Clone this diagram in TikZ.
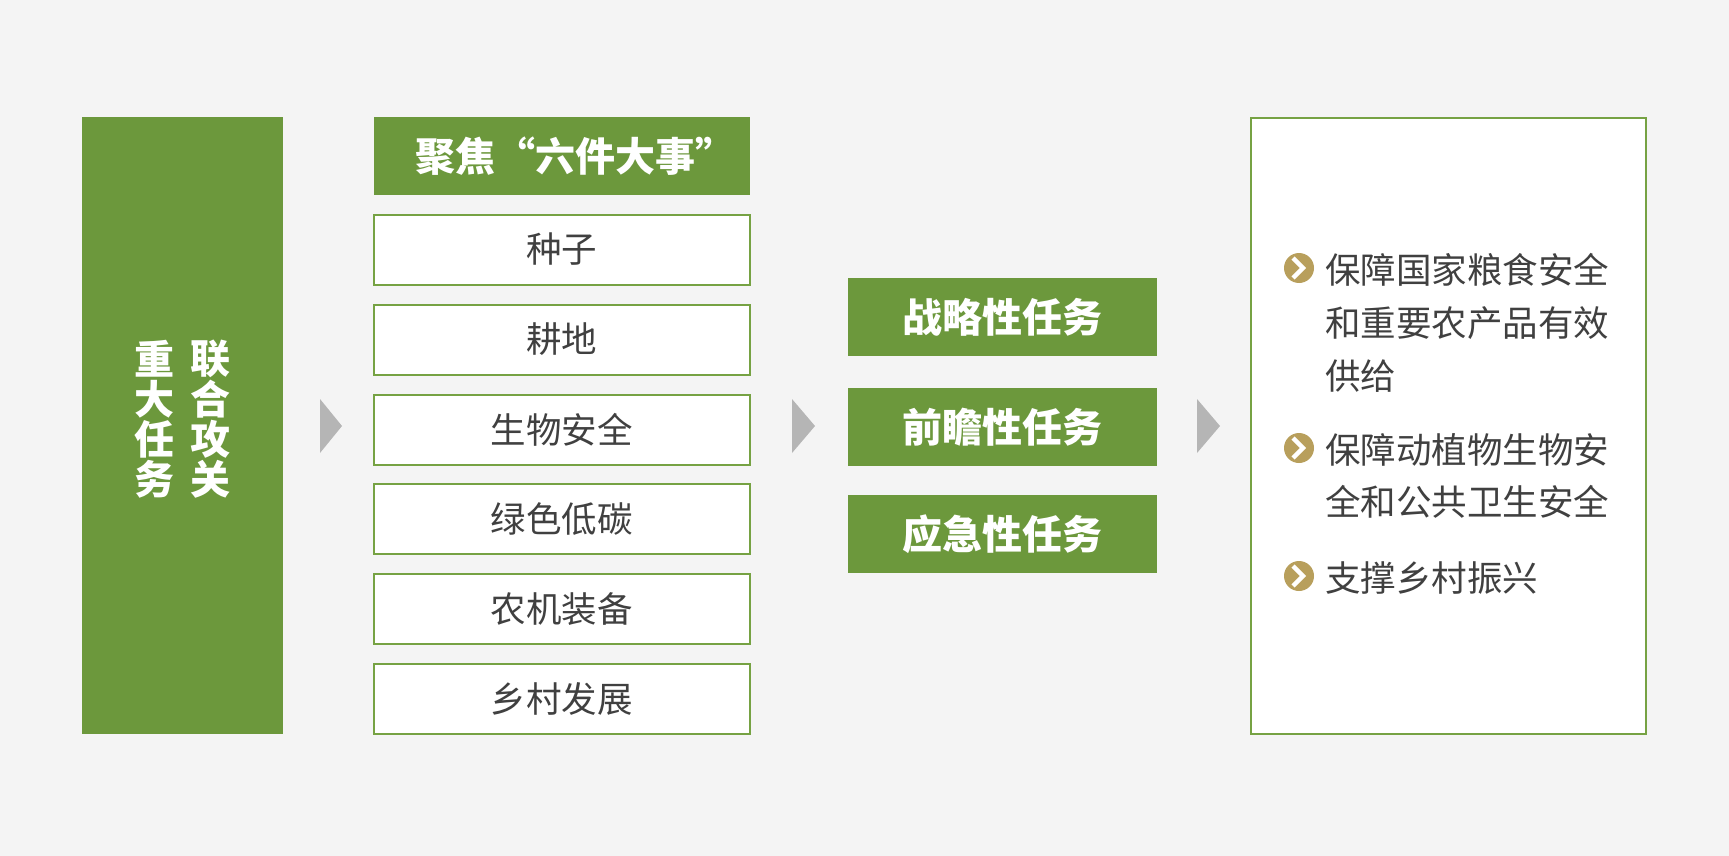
\documentclass[tikz,border=0pt]{standalone}
\usepackage{fontspec}
\setmainfont{Noto Sans CJK SC}
\usetikzlibrary{positioning}
\definecolor{bgc}{HTML}{F4F4F4}
\definecolor{leaf}{HTML}{6C983C}
\definecolor{edge}{HTML}{76A243}
\definecolor{ink}{HTML}{404040}
\definecolor{gold}{HTML}{B89F5C}
\definecolor{pointer}{HTML}{B5B5B5}
\tikzset{
  solidbox/.style={fill=leaf,draw=none,text=white,font=\fontsize{40}{40}\selectfont\bfseries,inner sep=0pt,outer sep=0pt},
  itembox/.style={fill=white,draw=edge,line width=2pt,text=ink,font=\fontsize{35.5}{40}\selectfont,inner sep=0pt,minimum width=376pt,minimum height=70pt},
  bodytext/.style={text=ink,font=\fontsize{35.5}{52}\selectfont,anchor=west,inner sep=0pt},
  pointerarrow/.style={fill=pointer,draw=none},
  bulletdot/.style={circle,fill=gold,draw=none,minimum size=30pt,inner sep=0pt},
  chevron/.style={draw=white,line width=4.5pt,line cap=butt,line join=miter}
}
\newcommand{\tri}[3]{\fill[pointerarrow] (#1,#2) -- (#3,426) -- (#1,#2+54) -- cycle;}
\newcommand{\bul}[2]{\node[bulletdot] (#1) at (1299,#2) {};
  \draw[chevron] (1293,#2-10) -- (1303,#2) -- (1293,#2+10);}
\newcommand{\low}[1]{\raisebox{-5pt}{#1}}
\newcommand{\lowb}[1]{\raisebox{-7pt}{#1}}
\begin{document}
\begin{tikzpicture}[x=1pt,y=-1pt]
\useasboundingbox (0,0) rectangle (1729,856);
\fill[bgc] (0,0) rectangle (1729,856);
% left column
\fill[leaf] (82,117) rectangle (283,734);
\foreach \ch/\x/\y/\n in {重/154/359/a,大/154/399/b,任/154/439/c,务/154/479/d,联/210/359/e,合/210/399/f,攻/210/439/g,关/210/479/h}{
  \node[text=white,font=\fontsize{40}{40}\selectfont\bfseries,inner sep=0pt] (left\n) at (\x,\y) {\ch};
}
% arrows
\tri{320}{399}{342}
\tri{792}{399}{815}
\tri{1197}{399}{1220}
% six items
\node[solidbox,minimum width=376pt,minimum height=78pt] (head) at (562,156) {\hspace{26pt}\lowb{聚焦“六件大事”}};
\node[itembox] (i1) at (561.5,249.5) {\low{种子}};
\node[itembox] (i2) at (561.5,339.5) {\low{耕地}};
\node[itembox] (i3) at (561.5,429.5) {\low{生物安全}};
\node[itembox] (i4) at (561.5,519) {\low{绿色低碳}};
\node[itembox] (i5) at (561.5,609) {\low{农机装备}};
\node[itembox] (i6) at (561.5,698.5) {\low{乡村发展}};
% middle
\node[solidbox,minimum width=309pt,minimum height=78pt] (m1) at (1002.5,317) {\lowb{战略性任务}};
\node[solidbox,minimum width=309pt,minimum height=78pt] (m2) at (1002.5,427) {\lowb{前瞻性任务}};
\node[solidbox,minimum width=309pt,minimum height=78pt] (m3) at (1002.5,534) {\lowb{应急性任务}};
% right
\node[fill=white,draw=edge,line width=2pt,minimum width=395pt,minimum height=615pt,inner sep=0pt] (panel) at (1448.5,426) {};
\bul{b1}{268}
\bul{b2}{448}
\bul{b3}{576}
\node[bodytext] (t1) at (1325,270) {保障国家粮食安全};
\node[bodytext] (t2) at (1325,323) {和重要农产品有效};
\node[bodytext] (t3) at (1325,376) {供给};
\node[bodytext] (t4) at (1325,450) {保障动植物生物安};
\node[bodytext] (t5) at (1325,502) {全和公共卫生安全};
\node[bodytext] (t6) at (1325,578) {支撑乡村振兴};
\end{tikzpicture}
\end{document}
